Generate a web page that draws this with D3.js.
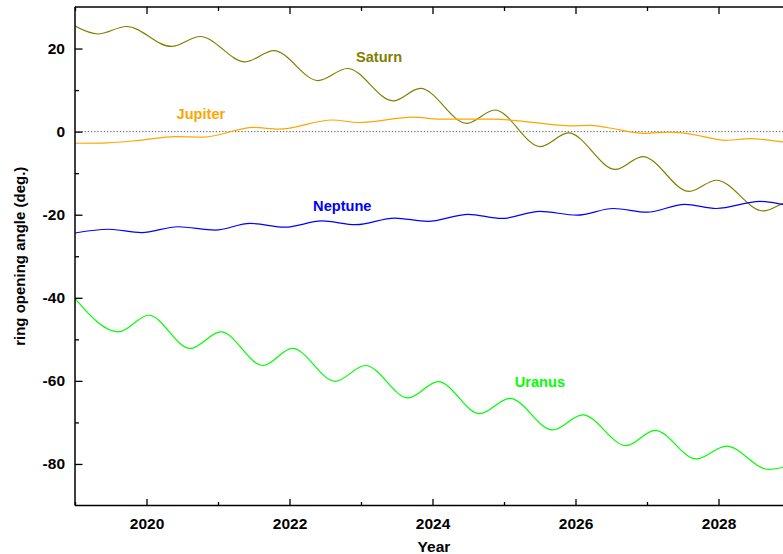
<!DOCTYPE html>
<html>
<head>
<meta charset="utf-8">
<script src="https://cdn.jsdelivr.net/npm/d3@7"></script>
<style>
  html, body { margin: 0; padding: 0; background: #fff; overflow: hidden; }
  svg { display: block; font-family: "Liberation Sans", Arial, sans-serif; }
</style>
</head>
<body>
<div id="chart"></div>
<script>
// ---- data ----
const saturnYears  = [2019.0, 2019.32, 2019.72, 2020.35, 2020.75, 2021.38, 2021.78, 2022.40, 2022.81, 2023.45, 2023.83, 2024.48, 2024.87, 2025.51, 2025.90, 2026.56, 2026.94, 2027.59, 2027.97, 2028.63, 2028.91, 2029.0];
const saturnValues = [25.4, 23.5, 25.3, 20.5, 22.9, 16.8, 19.5, 12.3, 15.2, 7.4, 10.4, 2.0, 5.2, -3.6, -0.3, -9.1, -6.0, -14.4, -11.7, -19.1, -17.2, -16.6];

const jupiterYears  = [2019.0, 2019.45, 2019.9, 2020.4, 2020.8, 2021.5, 2021.85, 2022.6, 2022.97, 2023.73, 2024.1, 2024.85, 2025.36, 2025.92, 2026.2, 2026.44, 2026.97, 2027.32, 2027.55, 2028.11, 2028.44, 2028.91, 2029.0];
const jupiterValues = [-2.8, -2.7, -2.1, -1.2, -1.3, 1.0, 0.6, 2.8, 2.2, 3.5, 3.0, 3.0, 2.3, 1.4, 1.5, 1.0, -0.4, -0.1, -0.4, -2.1, -1.7, -2.5, -2.7];

const neptuneYears  = [2019.0, 2019.47, 2019.93, 2020.44, 2020.96, 2021.45, 2021.94, 2022.45, 2022.93, 2023.47, 2023.93, 2024.50, 2024.97, 2025.50, 2026.02, 2026.53, 2027.00, 2027.53, 2027.97, 2028.58, 2028.90, 2029.0];
const neptuneValues = [-24.4, -23.5, -24.3, -22.9, -23.7, -22.1, -23.0, -21.5, -22.4, -20.8, -21.6, -19.9, -20.9, -19.2, -20.1, -18.5, -19.4, -17.5, -18.5, -16.8, -17.5, -17.8];

const uranusYears  = [2019.0, 2019.61, 2020.03, 2020.61, 2021.04, 2021.63, 2022.04, 2022.64, 2023.06, 2023.66, 2024.08, 2024.66, 2025.08, 2025.68, 2026.10, 2026.71, 2027.11, 2027.69, 2028.11, 2028.70, 2028.90, 2029.0];
const uranusValues = [-40.2, -48.2, -44.2, -52.2, -48.2, -56.3, -52.2, -60.1, -56.3, -64.1, -60.2, -67.9, -64.2, -71.8, -68.2, -75.6, -71.9, -78.8, -75.7, -81.3, -80.8, -80.3];

const seriesNames  = ["Saturn", "Jupiter", "Neptune", "Uranus"];
const seriesColors = ["#808000", "#ffa500", "#0000ff", "#00ff00"];

const xMajorTicks = [2020, 2022, 2024, 2026, 2028];
const xMinorTicks = [2019, 2021, 2023, 2025, 2027, 2029];
const yMajorTicks = [20, 0, -20, -40, -60, -80];
const yMinorTicks = [10, -10, -30, -50, -70];

const xTitle = "Year";
const yTitle = "ring opening angle (deg.)";

// ---- layout ----
const W = 783, H = 554;
const margin = { left: 75, top: 7 };
const plotW = 715, plotH = 498.5;

const svg = d3.select("#chart").append("svg").attr("width", W).attr("height", H);
const g = svg.append("g").attr("transform", `translate(${margin.left},${margin.top})`);

const x = d3.scaleLinear().domain([2019, 2029]).range([0, plotW]);
const y = d3.scaleLinear().domain([-90, 30]).range([plotH, 0]);

g.append("clipPath").attr("id", "clip")
  .append("rect").attr("x", 0).attr("y", 0).attr("width", plotW).attr("height", plotH);

// zero line
g.append("line")
  .attr("x1", 0).attr("x2", plotW)
  .attr("y1", y(0)).attr("y2", y(0))
  .attr("stroke", "#555").attr("stroke-width", 1)
  .attr("stroke-dasharray", "1.2,2");

// series
const allYears = [saturnYears, jupiterYears, neptuneYears, uranusYears];
const allValues = [saturnValues, jupiterValues, neptuneValues, uranusValues];
const line = d3.line().x(d => x(d[0])).y(d => y(d[1])).curve(d3.curveMonotoneX);
const lines = g.append("g").attr("clip-path", "url(#clip)");
allYears.forEach((ys, i) => {
  const pts = ys.map((yr, j) => [yr, allValues[i][j]]);
  lines.append("path").datum(pts)
    .attr("d", line)
    .attr("fill", "none")
    .attr("stroke", seriesColors[i])
    .attr("stroke-width", 1.2);
});

// series labels
const labelPos = [
  { yr: 2022.93, v: 16.8 },   // Saturn
  { yr: 2020.42, v: 2.95 },   // Jupiter
  { yr: 2022.33, v: -19.0 },  // Neptune
  { yr: 2025.15, v: -61.4 }   // Uranus
];
seriesNames.forEach((name, i) => {
  g.append("text")
    .attr("x", x(labelPos[i].yr)).attr("y", y(labelPos[i].v))
    .attr("fill", seriesColors[i])
    .attr("font-size", "14.6px").attr("font-weight", "bold")
    .text(name);
});

// axes
const fmt = d => String(d);
const styleAxis = sel => {
  sel.select(".domain").remove();
  sel.selectAll(".tick line").attr("stroke", "#000").attr("stroke-width", 1.3);
  sel.selectAll("text").attr("font-size", "15.5px").attr("font-weight", "bold")
     .attr("fill", "#000").attr("font-family", "Liberation Sans, Arial, sans-serif");
};

// bottom
g.append("g").attr("transform", `translate(0,${plotH})`)
  .call(d3.axisBottom(x).tickValues(xMinorTicks).tickSize(-3.5).tickFormat(""))
  .call(styleAxis);
g.append("g").attr("transform", `translate(0,${plotH})`)
  .call(d3.axisBottom(x).tickValues(xMajorTicks).tickSize(-6.5).tickPadding(12).tickFormat(fmt))
  .call(styleAxis);
// top
g.append("g")
  .call(d3.axisTop(x).tickValues(xMinorTicks).tickSize(-4).tickFormat(""))
  .call(styleAxis);
g.append("g")
  .call(d3.axisTop(x).tickValues(xMajorTicks).tickSize(-7).tickFormat(""))
  .call(styleAxis);
// left
g.append("g")
  .call(d3.axisLeft(y).tickValues(yMinorTicks).tickSize(-4).tickFormat(""))
  .call(styleAxis);
g.append("g")
  .call(d3.axisLeft(y).tickValues(yMajorTicks).tickSize(-7.5).tickPadding(10).tickFormat(fmt))
  .call(styleAxis);

// frame lines
g.append("line").attr("x1", 0).attr("x2", 0).attr("y1", 0).attr("y2", plotH)
  .attr("stroke", "#000").attr("stroke-width", 1.5);
g.append("line").attr("x1", 0).attr("x2", plotW).attr("y1", plotH).attr("y2", plotH)
  .attr("stroke", "#000").attr("stroke-width", 1.5);
g.append("line").attr("x1", 0).attr("x2", plotW).attr("y1", 0).attr("y2", 0)
  .attr("stroke", "#000").attr("stroke-width", 1.5);

// titles
svg.append("text")
  .attr("x", margin.left + x(2024.02)).attr("y", 551.5)
  .attr("text-anchor", "middle")
  .attr("font-size", "15.5px").attr("font-weight", "bold").attr("fill", "#000")
  .text(xTitle);
svg.append("text")
  .attr("transform", `translate(25,${margin.top + plotH / 2}) rotate(-90)`)
  .attr("text-anchor", "middle")
  .attr("font-size", "15px").attr("font-weight", "bold").attr("fill", "#000")
  .text(yTitle);
</script>
</body>
</html>
